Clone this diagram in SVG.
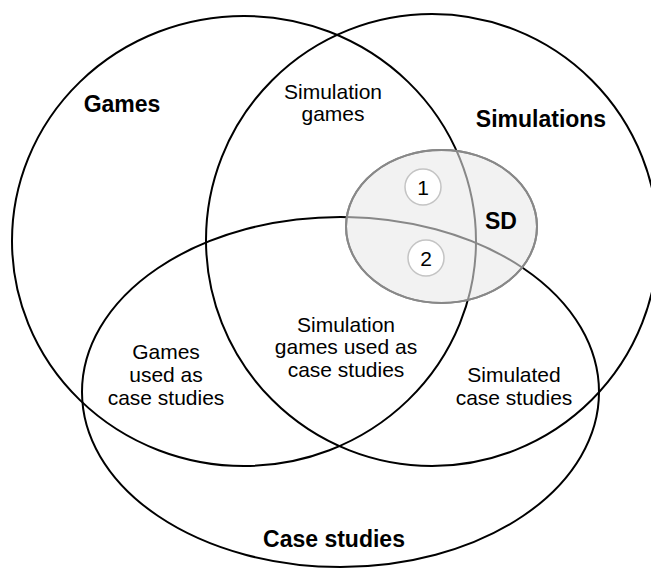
<svg xmlns="http://www.w3.org/2000/svg" width="651" height="569" viewBox="0 0 651 569">
  <style>
    .set { fill: none; stroke: #000; stroke-width: 2; }
    .inner { fill: none; stroke: #888; stroke-width: 2; }
    .sd { fill: #f2f2f2; stroke: #888; stroke-width: 2; }
    .badge { fill: #fff; stroke: #c4c4c4; stroke-width: 1.5; }
    text { font-family: "Liberation Sans", Arial, sans-serif; fill: #000; text-anchor: middle; }
    .title { font-size: 23px; font-weight: bold; }
    .lbl { font-size: 21px; }
  </style>
  <defs>
    <clipPath id="sdClip">
      <ellipse cx="441.5" cy="226.5" rx="95.5" ry="76.5"/>
    </clipPath>
  </defs>
  <rect width="651" height="569" fill="#fff"/>

  <g id="games">
    <ellipse class="set" cx="244" cy="241" rx="232" ry="225"/>
    <text class="title" x="122" y="112">Games</text>
  </g>
  <g id="simulations">
    <ellipse class="set" cx="432" cy="240" rx="226" ry="226"/>
    <text class="title" x="541" y="127">Simulations</text>
  </g>
  <g id="case-studies">
    <ellipse class="set" cx="340.5" cy="392" rx="258.5" ry="175"/>
    <text class="title" x="334" y="547">Case studies</text>
  </g>

  <g id="sd">
    <ellipse class="sd" cx="441.5" cy="226.5" rx="95.5" ry="76.5"/>
    <!-- set boundaries continue through SD in grey -->
    <g clip-path="url(#sdClip)">
      <ellipse class="inner" cx="244" cy="241" rx="232" ry="225"/>
      <ellipse class="inner" cx="340.5" cy="392" rx="258.5" ry="175"/>
    </g>
    <ellipse fill="none" stroke="#888" stroke-width="2" cx="441.5" cy="226.5" rx="95.5" ry="76.5"/>
    <text class="title" x="501" y="229">SD</text>
  </g>

  <g id="marker-1">
    <circle class="badge" cx="423" cy="187" r="18"/>
    <text class="lbl" x="423" y="195">1</text>
  </g>
  <g id="marker-2">
    <circle class="badge" cx="426" cy="258" r="18"/>
    <text class="lbl" x="426" y="266">2</text>
  </g>

  <g id="simulation-games">
    <text class="lbl" x="333" y="99">Simulation</text>
    <text class="lbl" x="333" y="121">games</text>
  </g>
  <g id="games-case-studies">
    <text class="lbl" x="166" y="359">Games</text>
    <text class="lbl" x="166" y="382">used as</text>
    <text class="lbl" x="166" y="405">case studies</text>
  </g>
  <g id="simulation-games-case-studies">
    <text class="lbl" x="346" y="332">Simulation</text>
    <text class="lbl" x="346" y="354">games used as</text>
    <text class="lbl" x="346" y="377">case studies</text>
  </g>
  <g id="simulated-case-studies">
    <text class="lbl" x="514" y="382">Simulated</text>
    <text class="lbl" x="514" y="405">case studies</text>
  </g>

  <g id="connectors"/>
</svg>
